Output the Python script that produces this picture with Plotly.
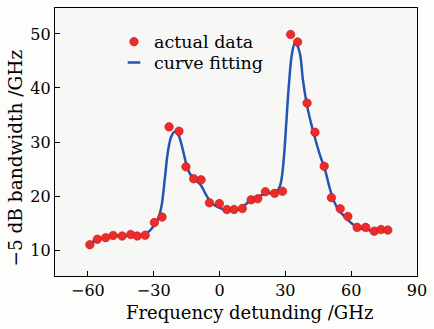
import plotly.graph_objects as go

# measured data points
data_x = [-59.1, -55.7, -51.9, -48.5, -44.4, -40.5, -37.5, -33.9, -29.7, -26.2,
          -23.0, -18.5, -15.3, -11.8, -8.4, -4.6, -0.1, 3.3, 6.6, 10.4,
          14.4, 17.4, 20.9, 25.1, 28.7, 32.4, 35.6, 39.9, 43.5, 47.7,
          51.0, 55.0, 58.5, 62.7, 66.6, 70.5, 73.6, 76.7]
data_y = [11.0, 12.0, 12.3, 12.7, 12.6, 12.9, 12.6, 12.75, 15.1, 16.1,
          32.8, 32.0, 25.4, 23.2, 23.0, 18.75, 18.6, 17.5, 17.5, 17.7,
          19.3, 19.5, 20.8, 20.5, 20.9, 49.9, 48.5, 37.2, 31.8, 25.5,
          19.7, 17.65, 16.2, 14.2, 14.2, 13.5, 13.8, 13.7]

# fitted curve
fit_x = [-60, -55, -50, -45, -40, -35, -32, -30, -28, -26.5, -25, -23.5, -22, -20.5,
         -19, -17.5, -16, -14.5, -13, -11.5, -10, -8.5, -6.5, -4, -2, 0, 3, 6, 9,
         12, 15, 18, 21, 24, 26, 27.5, 28.5, 29.5, 30.5, 31.5, 33, 34.3, 35.5,
         36.8, 38, 40, 42, 44, 46, 48, 50, 52, 54, 57, 60, 63, 66, 70, 74, 77]
fit_y = [11.0, 12.0, 12.5, 12.6, 12.7, 12.8, 13.5, 14.5, 15.8, 18.0, 23.0, 28.3, 31.0, 31.9,
         31.5, 29.8, 27.3, 25.0, 23.8, 23.0, 22.6, 22.0, 20.5, 18.9, 18.2, 17.8, 17.4, 17.3, 17.6,
         18.5, 19.5, 20.0, 20.4, 20.6, 20.8, 21.8, 23.8, 28.0, 34.0, 40.0, 46.3, 48.2, 47.8,
         46.0, 41.5, 36.5, 33.0, 30.0, 27.3, 25.0, 21.8, 19.2, 17.6, 16.2, 15.0, 14.2, 13.8, 13.6, 13.5, 13.5]

x_ticks = [-60, -30, 0, 30, 60, 90]
y_ticks = [10, 20, 30, 40, 50]
x_title = "Frequency detunding /GHz"
y_title = "\u22125 dB bandwidth /GHz"

RED = "#ee2b2b"
BLUE = "#2356b0"
FONT = "DejaVu Serif"

fig = go.Figure()
fig.add_trace(go.Scatter(x=fit_x, y=fit_y, mode="lines", line=dict(color=BLUE, width=2.5, shape="spline", smoothing=1.0),
                         showlegend=False, hoverinfo="skip"))
fig.add_trace(go.Scatter(x=data_x, y=data_y, mode="markers", name="actual data", legend="legend",
                         marker=dict(color=RED, size=8.5, line=dict(color="#c01818", width=0.6))))
fig.add_trace(go.Scatter(x=[None], y=[None], mode="markers", name="curve fitting", legend="legend2",
                         marker=dict(symbol="line-ew", size=9, color=BLUE, line=dict(color=BLUE, width=2.5))))

axis_common = dict(showline=True, linecolor="black", linewidth=1.2, mirror=True, ticks="inside",
                   ticklen=5, tickwidth=1, tickcolor="black", showgrid=False, zeroline=False,
                   tickfont=dict(family=FONT, size=16, color="black"))

legend_common = dict(xanchor="left", yanchor="middle", bgcolor="rgba(255,255,255,0)",
                     font=dict(family=FONT, size=17.5, color="black"), itemwidth=30)

fig.update_layout(
    width=434, height=329,
    margin=dict(l=55, r=13, t=7, b=53),
    paper_bgcolor="#fdfdfc", plot_bgcolor="#f7f7f5",
    font=dict(family=FONT, color="black"),
    xaxis=dict(range=[-75, 90], tickvals=x_ticks, ticktext=[str(v).replace("-", "\u2212") for v in x_ticks],
               **axis_common),
    yaxis=dict(range=[5.2, 54.8], tickvals=y_ticks, **axis_common),
    legend=dict(x=0.163, y=0.874, **legend_common),
    legend2=dict(x=0.163, y=0.796, **legend_common),
    annotations=[
        dict(text=x_title, xref="paper", yref="paper", x=0.537, y=-0.137, xanchor="center", yanchor="middle",
             showarrow=False, font=dict(family=FONT, size=18, color="black")),
        dict(text=y_title, xref="paper", yref="paper", x=-0.109, y=0.44, xanchor="center", yanchor="middle",
             textangle=-90, showarrow=False, font=dict(family=FONT, size=18.5, color="black")),
    ],
)

fig.write_html("out.html")
